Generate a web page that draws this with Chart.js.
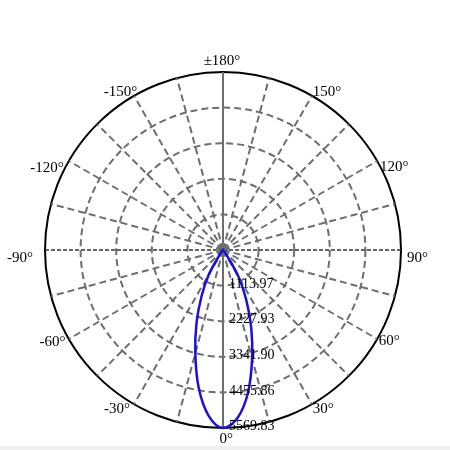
<!DOCTYPE html>
<html>
<head>
<meta charset="utf-8">
<title>Polar intensity</title>
<script src="https://cdn.jsdelivr.net/npm/chart.js@4/dist/chart.umd.min.js"></script>
<style>
  html, body { margin: 0; padding: 0; background: #f0f0f0; }
  #wrap { width: 450px; height: 446px; background: #ffffff; position: relative; }
</style>
</head>
<body>
<div id="wrap"><canvas id="polarChart"></canvas></div>
<script>
// Angles in degrees, clockwise from the top (180) round to -175
const angles = [
  180, 175, 170, 165, 160, 155, 150, 145, 140, 135, 130, 125,
  120, 115, 110, 105, 100, 95, 90, 85, 80, 75, 70, 65,
  60, 55, 50, 45, 40, 35, 30, 25, 20, 15, 10, 5,
  0, -5, -10, -15, -20, -25, -30, -35, -40, -45, -50, -55,
  -60, -65, -70, -75, -80, -85, -90, -95, -100, -105, -110, -115,
  -120, -125, -130, -135, -140, -145, -150, -155, -160, -165, -170, -175
];

// Luminous intensity, one value per angle above
const intensity = [
  0, 0, 0, 0, 0, 0, 0, 0, 0, 0, 0, 0,
  0, 0, 0, 0, 0, 0, 0, 0, 0, 0, 0, 0,
  0, 0, 0, 0, 0, 240, 980, 1720, 2580, 3520, 4520, 5270,
  5569.83, 5200, 4380, 3350, 2420, 1580, 880, 180, 0, 0, 0, 0,
  0, 0, 0, 0, 0, 0, 0, 0, 0, 0, 0, 0,
  0, 0, 0, 0, 0, 0, 0, 0, 0, 0, 0, 0
];

// Radial rings
const ringValues = [0, 1113.97, 2227.93, 3341.90, 4455.86, 5569.83];

// Angles that get a label round the rim
const labelAngles = [180, 150, 120, 90, 60, 30, 0, -30, -60, -90, -120, -150];

const serif = "'Liberation Serif', 'Times New Roman', serif";

function angleText(a) {
    return a === 180 ? '\u00b1180\u00b0' : a + '\u00b0';
}

// Ring values along the 0 degree spoke, rim labels round the circle
const labelPlugin = {
    id: 'polarLabels',
    afterDraw(chart) {
        const scale = chart.scales.r;
        const ctx = chart.ctx;
        const zeroIdx = angles.indexOf(0);
        ctx.save();
        ctx.fillStyle = '#000000';

        ctx.font = '14px ' + serif;
        ctx.textAlign = 'left';
        ctx.textBaseline = 'middle';
        ringValues.forEach(v => {
            if (v === 0) return;
            const p = scale.getPointPositionForValue(zeroIdx, v);
            ctx.fillText(v.toFixed(2), p.x + 6, p.y - 1.5);
        });

        // nudges that put each rim label where the original tool put it
        const nudge = {
            '180': [-1, -10.5], '150': [15, -3.3], '120': [17, 6], '90': [16.5, 7.7],
            '60': [12, 2.5], '30': [11.3, 4.7], '0': [3.2, 10.9], '-30': [-17, 4.7],
            '-60': [-16.3, 2.8], '-90': [-25, 7.7], '-120': [-21.8, 6.6], '-150': [-13.4, -3.3]
        };
        ctx.font = '15px ' + serif;
        ctx.textAlign = 'center';
        labelAngles.forEach(a => {
            const p = scale.getPointPosition(angles.indexOf(a), scale.drawingArea);
            const n = nudge[String(a)];
            ctx.fillText(angleText(a), p.x + n[0], p.y + n[1]);
        });
        ctx.restore();
    }
};

const ctx = document.getElementById('polarChart');

new Chart(ctx, {
    type: 'radar',
    data: {
        labels: angles,
        datasets: [{
            data: intensity,
            borderColor: '#1a10d8',
            borderWidth: 2.5,
            fill: false,
            pointRadius: 0,
            tension: 0.35
        }]
    },
    options: {
        responsive: true,
        maintainAspectRatio: false,
        animation: false,
        layout: {
            padding: { top: 72, bottom: 18, left: 45, right: 49 }
        },
        plugins: {
            legend: { display: false },
            tooltip: { enabled: false }
        },
        scales: {
            r: {
                startAngle: 0,
                min: 0,
                max: 5569.83,
                afterBuildTicks: function (scale) {
                    scale.ticks = ringValues.map(v => ({ value: v }));
                },
                ticks: { display: false },
                grid: {
                    circular: true,
                    color: c => c.index === ringValues.length - 1 ? '#000000' : '#6e6e6e',
                    lineWidth: 2
                },
                border: {
                    dash: c => c.index === ringValues.length - 1 ? [] : [7, 4]
                },
                angleLines: {
                    lineWidth: c => {
                        const a = angles[c.index];
                        if (a % 15 !== 0) return 0;
                        if (a === 90 || a === -90) return 1.5;
                        return 2;
                    },
                    color: c => {
                        const a = angles[c.index];
                        if (a === 90 || a === -90) return '#333333';
                        return '#6e6e6e';
                    },
                    borderDash: c => {
                        const a = angles[c.index];
                        if (a === 0 || a === 180) return [];
                        if (a === 90 || a === -90) return [4, 2];
                        return [7, 4];
                    }
                },
                // rim labels are drawn by the plugin
                pointLabels: { display: false }
            }
        }
    },
    plugins: [labelPlugin]
});
</script>
</body>
</html>
